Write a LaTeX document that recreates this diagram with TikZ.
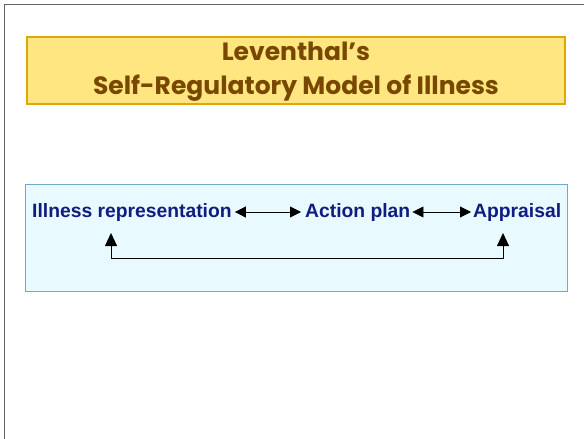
\documentclass[tikz,border=0pt]{standalone}
\usepackage{fontspec}
\setmainfont{Liberation Sans}
\newfontfamily\titlefont{Poppins}
\usetikzlibrary{arrows.meta}
\definecolor{framegray}{RGB}{100,100,100}
\definecolor{titlefill}{RGB}{255,230,128}
\definecolor{titleborder}{RGB}{222,168,8}
\definecolor{titletext}{RGB}{120,72,0}
\definecolor{panelfill}{RGB}{232,250,255}
\definecolor{panelborder}{RGB}{112,170,200}
\definecolor{navy}{RGB}{16,28,128}
\tikzset{
  label text/.style={inner sep=0pt, anchor=base west, text=navy,
    font=\fontsize{19.3}{22}\selectfont\bfseries, text height=14pt, text depth=4pt},
  link/.style={line width=0.8pt, {Triangle[length=11pt,width=11pt]}-{Triangle[length=11pt,width=11pt]}},
  feedback/.style={line width=0.8pt, {Triangle[length=13pt,width=12pt]}-{Triangle[length=13pt,width=12pt]}}
}
\begin{document}
\begin{tikzpicture}[x=1pt,y=-1pt]
\useasboundingbox (0,0) rectangle (584,439);
\fill[white] (0,0) rectangle (584,439);
% outer frame (top and left visible)
\draw[framegray, line width=1.5pt] (4.5,439) -- (4.5,4.5) -- (584,4.5);
% title box
\draw[titleborder, fill=titlefill, line width=2.5pt] (27,37) rectangle (565,104);
\node[text=titletext, align=center, inner sep=0pt,
  font=\titlefont\fontsize{25}{34}\selectfont\bfseries] (title) at (296,72)
  {Leventhal’s\\Self-Regulatory Model of Illness};
% panel
\draw[panelborder, fill=panelfill, line width=1pt] (25,184) rectangle (567,291);
\node[label text] (ir) at (32,217) {Illness representation};
\node[label text] (ap) at (305,217) {Action plan};
\node[label text] (appr) at (473,217) {Appraisal};
\draw[link] ([xshift=3pt]ir.east) -- ([xshift=-4pt]ap.west);
\draw[link] ([xshift=2pt]ap.east) -- ([xshift=-2pt]appr.west);
\coordinate (t1) at (111,233);
\coordinate (c1) at (111,258);
\coordinate (c2) at (503,258);
\coordinate (t2) at (503,233);
\draw[feedback] (t1) -- (c1) -- (c2) -- (t2);
\end{tikzpicture}
\end{document}
